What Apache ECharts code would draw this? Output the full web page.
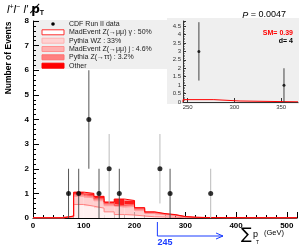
<!DOCTYPE html>
<html><head><meta charset="utf-8">
<script src="https://cdn.jsdelivr.net/npm/echarts@6/dist/echarts.min.js"></script>
<style>html,body{margin:0;padding:0;background:#fff}#c{width:299px;height:248px}</style>
</head><body><div id="c"></div>
<script>
// ---- data ----
const binEdges = [0,20,40,60,80,100,120,140,160,180,200,220,240,260,280,300,320,340,360,380,400,420,440,460,480,500];
const lastEdge = 520;
const zGamma   = [0.004,0.004,0.004,0.04,0.55,0.48,0.40,0.25,0.14,0.12,0.08,0.05,0.04,0.03,0.01,0.005,0.004,0.003,0.003,0.003,0.002,0.002,0.002,0.002,0.002,0.002];
const pythiaWZ = [0.003,0.003,0.003,0.025,0.33,0.33,0.30,0.25,0.30,0.35,0.22,0.13,0.09,0.07,0.03,0.015,0.01,0.01,0.008,0.008,0.007,0.006,0.006,0.005,0.005,0.005];
const zJet     = [0,0,0,0.005,0.05,0.05,0.05,0.06,0.04,0.05,0.05,0.03,0.02,0.02,0.01,0.005,0.003,0.003,0.002,0.002,0.002,0.002,0.002,0.002,0.002,0.002];
const zTauTau  = [0,0,0,0.005,0.04,0.04,0.04,0.04,0.03,0.04,0.03,0.02,0.02,0.01,0.005,0.003,0.002,0.002,0.002,0.002,0.001,0.001,0.001,0.001,0.001,0.001];
const other    = [0.002,0.002,0.002,0.005,0.08,0.10,0.09,0.05,0.26,0.15,0.04,0.02,0.01,0.01,0.005,0.002,0.002,0.002,0.002,0.002,0.002,0.002,0.002,0.002,0.002,0.002];

const dataX   = [70,90,110,130,150,170,250,270,350];
const dataY   = [1,1,4,1,2,1,2,1,1];
const dataErr = [1,1,2,1,1.41,1,1.41,1,1];

const insetEdges = [245,278,306];
const insetLast = 368;
const insetSM   = [0.14,0.06,0.01];
const insetX    = [262,353];
const insetY    = [3,1];
const insetErr  = [1.73,1];

const xTicks = [0,100,200,300,400,500];
const insetXTicks = [250,300,350];
const cutValue = 245;

const legendLabels = ['CDF Run II data','MadEvent Z(\u2192\u03bc\u03bc) \u03b3 : 50%','Pythia WZ : 33%','MadEvent Z(\u2192\u03bc\u03bc) j : 4.6%','Pythia Z(\u2192\u03c4\u03c4) : 3.2%','Other'];

// ---- styles ----
const errShade = ['#555','#555','#555','#555','#bbb','#555','#bbb','#555','#bbb'];
const layers = [
  {name: legendLabels[1], vals: zGamma,   fill:'#fff0f0', line:'#ff8080'},
  {name: legendLabels[2], vals: pythiaWZ, fill:'#ffcfcf', line:'#ff9a9a'},
  {name: legendLabels[3], vals: zJet,     fill:'#ffabab', line:'#ff7f7f'},
  {name: legendLabels[4], vals: zTauTau,  fill:'#ff7c7c', line:'#ff5555'},
  {name: legendLabels[5], vals: other,    fill:'#ff1a1a', line:'#ff0000'}
];
const FONT = 'Liberation Sans, Arial, Helvetica, sans-serif';

const chart = echarts.init(document.getElementById('c'), null, {renderer:'canvas'});

// stacked bin boxes: base of each layer = top of the layer below
const rightEdges = binEdges.slice(1).concat([lastEdge]);
const histSeries = [];
let base = binEdges.map(() => 0);
layers.forEach((L, li) => {
  const top = base.map((b, i) => b + L.vals[i]);
  const boxes = binEdges.map((e, i) => [e, rightEdges[i], base[i], top[i]]);
  histSeries.push({
    name: L.name, type:'custom', xAxisIndex:0, yAxisIndex:0, silent:true, z:2 + li*0.01,
    renderItem: function(params, api){
      const p0 = api.coord([api.value(0), api.value(2)]);
      const p1 = api.coord([api.value(1), api.value(3)]);
      return {type:'rect', shape:{x:p0[0], y:p1[1], width:p1[0]-p0[0], height:p0[1]-p1[1]},
              style:{fill:L.fill}};
    },
    data: boxes
  });
  histSeries.push({
    name: L.name + ' outline', type:'line', step:'end', xAxisIndex:0, yAxisIndex:0,
    showSymbol:false, symbol:'none', silent:true, z:3 + li*0.01,
    data: binEdges.map((e,i)=>[e, top[i]]).concat([[lastEdge, top[top.length-1]]]),
    lineStyle:{color:L.line, width:1}
  });
  base = top;
});

function errRender(shades){
  return function(params, api){
    const x = api.value(0), lo = api.value(1), hi = api.value(2);
    const p1 = api.coord([x, lo]), p2 = api.coord([x, hi]);
    return {type:'line', shape:{x1:p1[0], y1:p1[1], x2:p2[0], y2:p2[1]},
            style:{stroke: shades ? shades[params.dataIndex] : '#444', lineWidth:1}};
  };
}

const axisLabelMain = {fontFamily:FONT, fontWeight:'bold', fontSize:8, color:'#000'};

chart.setOption({
  animation:false,
  grid:[
    {left:33, right:2, top:21, bottom:30},
    {left:183, right:1, top:21, bottom:146}
  ],
  xAxis:[
    {type:'value', gridIndex:0, min:0, max:lastEdge, interval:100,
     axisLine:{lineStyle:{color:'#000', width:1}},
     axisTick:{inside:true, length:6, lineStyle:{color:'#000'}},
     minorTick:{show:true, splitNumber:5, length:3, lineStyle:{color:'#000'}},
     axisLabel:{...axisLabelMain, margin:4, showMaxLabel:false,
       formatter: v => xTicks.indexOf(v) >= 0 ? String(v) : ''},
     splitLine:{show:false}},
    {type:'value', gridIndex:1, min:insetEdges[0], max:insetLast,
     axisLine:{lineStyle:{color:'#333', width:1}},
     axisTick:{inside:true, length:4, customValues:insetXTicks, lineStyle:{color:'#333'}},
     axisLabel:{fontFamily:FONT, fontSize:6, color:'#333', margin:2, customValues:insetXTicks},
     splitLine:{show:false}}
  ],
  yAxis:[
    {type:'value', gridIndex:0, min:0, max:8, interval:1,
     axisLine:{show:true, lineStyle:{color:'#000', width:1}},
     axisTick:{show:true, inside:true, length:6, lineStyle:{color:'#000'}},
     minorTick:{show:true, splitNumber:5, length:3, lineStyle:{color:'#000'}},
     axisLabel:{...axisLabelMain, margin:4},
     splitLine:{show:false}},
    {type:'value', gridIndex:1, min:0, max:4.8, interval:0.5,
     axisLine:{show:true, lineStyle:{color:'#333', width:1}},
     axisTick:{show:true, inside:true, length:3, lineStyle:{color:'#333'}},
     minorTick:{show:true, splitNumber:5, length:1.5, lineStyle:{color:'#333'}},
     axisLabel:{fontFamily:FONT, fontSize:6, color:'#333', margin:2, showMaxLabel:false},
     splitLine:{show:false}}
  ],
  series: histSeries.concat([
    {name:'err', type:'custom', xAxisIndex:0, yAxisIndex:0, renderItem: errRender(errShade),
     data: dataX.map((x,i)=>[x, dataY[i]-dataErr[i], dataY[i]+dataErr[i]]), z:5, silent:true},
    {name: legendLabels[0], type:'scatter', xAxisIndex:0, yAxisIndex:0, symbolSize:5,
     itemStyle:{color:'#000'}, data: dataX.map((x,i)=>[x, dataY[i]]), z:6, silent:true},
    {name:'insetSM', type:'line', step:'end', xAxisIndex:1, yAxisIndex:1, showSymbol:false, symbol:'none',
     data: [[insetEdges[0],0]].concat(insetEdges.map((e,i)=>[e, insetSM[i]])).concat([[insetLast, insetSM[insetSM.length-1]]]),
     lineStyle:{color:'#ff0000', width:1}, z:3, silent:true},
    {name:'insetErr', type:'custom', xAxisIndex:1, yAxisIndex:1, renderItem: errRender(null),
     data: insetX.map((x,i)=>[x, insetY[i]-insetErr[i], insetY[i]+insetErr[i]]), z:5, silent:true},
    {name:'insetData', type:'scatter', xAxisIndex:1, yAxisIndex:1, symbolSize:3,
     itemStyle:{color:'#000'}, data: insetX.map((x,i)=>[x, insetY[i]]), z:6, silent:true}
  ])
});

// ---- annotations / legend (text kept as real text) ----
const cut0 = chart.convertToPixel({gridIndex:0}, [cutValue, 0]);
const ax = cut0[0], ay = cut0[1];
const legendRows = [24, 32.3, 40.7, 49, 57.3, 65.7];
const legendIcons = [null,
  {fill:'#ffffff', stroke:'#ff3030'},
  {fill:'#ffd2d2', stroke:'#ffb0b0'},
  {fill:'#ffb0b0', stroke:'#ff9090'},
  {fill:'#ff8080', stroke:'#ff7070'},
  {fill:'#ff0000', stroke:'#ff0000'}];
const els = [
  {type:'rect', z:-1, silent:true, shape:{x:33, y:20, width:134, height:49}, style:{fill:'#efefef'}},
  {type:'rect', z:-1, silent:true, shape:{x:167, y:18, width:132, height:86}, style:{fill:'#efefef'}},
  {type:'circle', z:10, shape:{cx:53, cy:legendRows[0], r:1.8}, style:{fill:'#000'}}
];
for (let i = 1; i < legendLabels.length; i++) {
  els.push({type:'rect', z:10, shape:{x:42, y:legendRows[i]-2.5, width:22, height:5},
            style:{fill:legendIcons[i].fill, stroke:legendIcons[i].stroke, lineWidth:1}});
}
legendLabels.forEach((t,i)=>{
  els.push({type:'text', z:10, x:69, y:legendRows[i],
    style:{text:t, fontFamily:FONT, fontSize:7, fill:'#222', verticalAlign:'middle', align:'left'}});
});
els.push(
  {type:'text', z:10, x:7, y:10,
   style:{text:'{a|l}{s|+}{a|l}{s|\u2212} {a|l\'} {b|p\u0338}{c|T}', verticalAlign:'middle',
     rich:{a:{fontFamily:FONT, fontStyle:'italic', fontSize:11, fill:'#000'},
           s:{fontFamily:FONT, fontSize:7, fill:'#000', verticalAlign:'top', padding:[0,0,6,0]},
           b:{fontFamily:'DejaVu Sans, sans-serif', fontWeight:'bold', fontSize:12, fill:'#000'},
           c:{fontFamily:FONT, fontWeight:'bold', fontSize:7, fill:'#000', padding:[6,0,0,0]}}}},
  {type:'text', z:10, x:9, y:58, rotation:Math.PI/2,
   style:{text:'Number of Events', fontFamily:FONT, fontWeight:'bold', fontSize:8.5, fill:'#000', align:'center', verticalAlign:'middle'}},
  {type:'text', z:10, x:286, y:15,
   style:{text:'{i|P} = 0.0047', fontFamily:FONT, fontSize:9, fill:'#000', align:'right', verticalAlign:'middle',
     rich:{i:{fontFamily:FONT, fontStyle:'italic', fontSize:9, fill:'#000'}}}},
  {type:'text', z:10, x:293, y:33,
   style:{text:'SM= 0.39', fontFamily:FONT, fontWeight:'bold', fontSize:7, fill:'#ff0000', align:'right', verticalAlign:'middle'}},
  {type:'text', z:10, x:293, y:41,
   style:{text:'d= 4', fontFamily:FONT, fontWeight:'bold', fontSize:7, fill:'#000', align:'right', verticalAlign:'middle'}},
  {type:'text', z:10, x:241, y:235,
   style:{text:'\u2211', fontFamily:'DejaVu Sans, sans-serif', fontSize:16, fill:'#000', align:'left', verticalAlign:'middle'}},
  {type:'text', z:10, x:253, y:235,
   style:{text:'p', fontFamily:FONT, fontSize:9, fill:'#000', align:'left', verticalAlign:'middle'}},
  {type:'text', z:10, x:256, y:243,
   style:{text:'T', fontFamily:FONT, fontSize:5, fill:'#000', align:'left', verticalAlign:'middle'}},
  {type:'text', z:10, x:264, y:233,
   style:{text:'(GeV)', fontFamily:FONT, fontSize:7.5, fill:'#000', align:'left', verticalAlign:'middle'}},
  {type:'polyline', z:10, shape:{points:[[ax, ay+4],[ax, 236],[223, 236]]}, style:{stroke:'#1a3cff', lineWidth:1, fill:null}},
  {type:'polyline', z:10, shape:{points:[[216, 233],[223, 236],[216, 239]]}, style:{stroke:'#1a3cff', lineWidth:1, fill:null}},
  {type:'text', z:10, x:ax, y:243,
   style:{text:String(cutValue), fontFamily:FONT, fontWeight:'bold', fontSize:9, fill:'#1a3cff', align:'left', verticalAlign:'middle'}}
);
chart.setOption({graphic:{elements:els}});
</script></body></html>
